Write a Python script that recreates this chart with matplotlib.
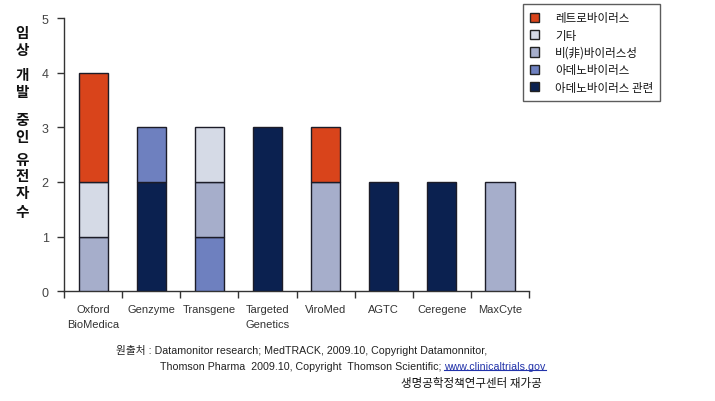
import matplotlib
matplotlib.use("Agg")
import matplotlib.pyplot as plt
from matplotlib.patches import Patch
from matplotlib.lines import Line2D
import numpy as np

categories = ["Oxford\nBioMedica", "Genzyme", "Transgene", "Targeted\nGenetics",
              "ViroMed", "AGTC", "Ceregene", "MaxCyte"]
# stack order bottom -> top
series_names = ["아데노바이러스 관련", "아데노바이러스", "비(非)바이러스성", "기타", "레트로바이러스"]
adeno_related = [0, 2, 0, 3, 0, 2, 2, 0]
adeno = [0, 1, 1, 0, 0, 0, 0, 0]
nonviral = [1, 0, 1, 0, 2, 0, 0, 2]
other = [1, 0, 1, 0, 0, 0, 0, 0]
retro = [2, 0, 0, 0, 1, 0, 0, 0]
series_values = [adeno_related, adeno, nonviral, other, retro]
colors = ["#0B2150", "#6E80BF", "#A6AECB", "#D5DAE6", "#D9441B"]
yticks = [0, 1, 2, 3, 4, 5]

plt.rcParams['font.family'] = ['Liberation Sans', 'Noto Sans CJK KR']

fig = plt.figure(figsize=(7.15, 4.02), dpi=100)
ax = fig.add_axes([0.0895, 0.2736, 0.6505, 0.678])

x = np.arange(len(categories))
bottom = np.zeros(len(categories))
for name, vals, c in zip(series_names, series_values, colors):
    vals = np.array(vals, dtype=float)
    m = vals > 0
    ax.bar(x[m], vals[m], width=0.5, bottom=bottom[m], color=c, edgecolor="#1c1c28",
           linewidth=1.0, zorder=3)
    bottom += vals

ax.set_xlim(-0.5, len(categories) - 0.5)
ax.set_ylim(0, 5)
ax.set_yticks(yticks)
ax.set_yticklabels([str(v) for v in yticks], fontsize=9, color="#444444")
ax.set_xticks(np.arange(-0.5, len(categories), 1.0))
ax.set_xticklabels([])
ax.set_xticks(x, minor=True)
ax.set_xticklabels(categories, minor=True, fontsize=8, color="#333333", linespacing=1.7)
ax.tick_params(axis='x', which='major', direction='out', length=5, width=1, color="#333333")
ax.tick_params(axis='x', which='minor', length=0, pad=9)
ax.tick_params(axis='y', direction='out', length=5, width=1, color="#333333", pad=6)
for s in ["top", "right"]:
    ax.spines[s].set_visible(False)
for s in ["left", "bottom"]:
    ax.spines[s].set_color("#333333")
    ax.spines[s].set_linewidth(1.0)

# legend (top item first)
handles = [Patch(facecolor=c, edgecolor="#222222", linewidth=1.0, label=n)
           for n, c in zip(series_names[::-1], colors[::-1])]
leg = fig.legend(handles=handles, loc="upper left", bbox_to_anchor=(0.732, 0.987),
                 frameon=True, fancybox=False, fontsize=8.3, handlelength=0.75,
                 handleheight=0.85, handletextpad=1.4, labelspacing=0.38,
                 borderpad=0.6, borderaxespad=0)
leg.get_frame().set_edgecolor("#333333")
leg.get_frame().set_linewidth(1.0)
for t in leg.get_texts():
    t.set_fontfamily(['Noto Sans CJK KR'])
    t.set_color("#111111")

# stacked y label
ychars = ["임", "상", "개", "발", "중", "인", "유", "전", "자", "수"]
ypos = [33, 50, 75, 92, 120, 137, 160, 176, 193, 212]
for ch, yp in zip(ychars, ypos):
    fig.text(22 / 715, 1 - yp / 402, ch, fontsize=10.5, fontweight="bold",
             family=['Noto Sans CJK KR'], ha="center", va="center", color="#111111")

# source notes
fs = 7.7
fig.text(116 / 715, 1 - 351 / 402, "원출처 : Datamonitor research; MedTRACK, 2009.10, Copyright Datamonnitor,",
         fontsize=fs, ha="left", va="center", color="#222222",
         family=['Liberation Sans', 'Noto Sans CJK KR'])
t2 = fig.text(160 / 715, 1 - 367 / 402, "Thomson Pharma  2009.10, Copyright  Thomson Scientific; ",
              fontsize=fs, ha="left", va="center", color="#222222",
              family=['Liberation Sans'])
fig.canvas.draw()
r = fig.canvas.get_renderer()
bb = t2.get_window_extent(r)
x_link = bb.x1 / fig.bbox.width
t3 = fig.text(x_link, 1 - 367 / 402, "www.clinicaltrials.gov", fontsize=fs, ha="left",
              va="center", color="#2233AA", family=['Liberation Sans'])
fig.canvas.draw()
bb3 = t3.get_window_extent(r)
yu = (bb3.y0 + 1) / fig.bbox.height
fig.add_artist(Line2D([bb3.x0 / fig.bbox.width, bb3.x1 / fig.bbox.width], [yu, yu],
                      color="#2233AA", linewidth=0.8, transform=fig.transFigure))
fig.text(542 / 715, 1 - 384 / 402, "생명공학정책연구센터 재가공", fontsize=8.3, ha="right",
         va="center", color="#111111", family=['Noto Sans CJK KR'], fontweight="medium")

fig.savefig("out.png", dpi=100)
